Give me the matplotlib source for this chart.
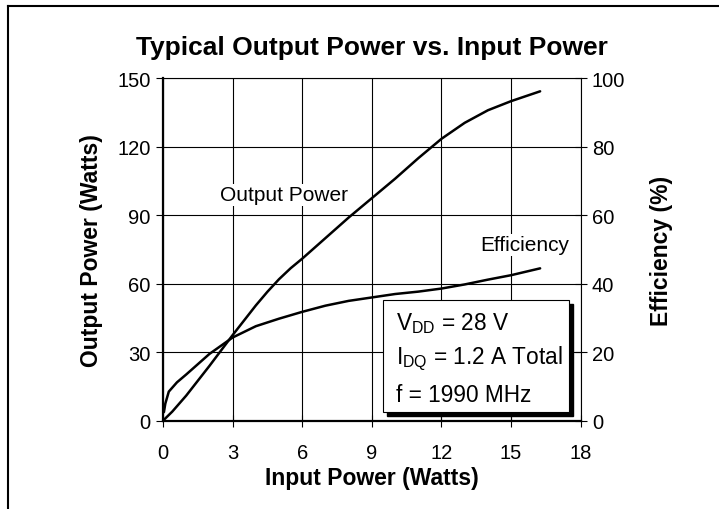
import matplotlib
matplotlib.use("Agg")
import matplotlib.pyplot as plt
from matplotlib.patches import Rectangle
from matplotlib.lines import Line2D

plt.rcParams['font.family'] = ['Liberation Sans', 'DejaVu Sans']
plt.rcParams['mathtext.fontset'] = 'custom'
plt.rcParams['mathtext.rm'] = 'Liberation Sans'

# output power curve (Watts) vs input power (Watts)
pin_out = [0, 0.4, 1, 2, 3, 4, 4.5, 5, 5.5, 6, 7, 8, 9, 10, 11, 12, 13, 14, 15, 16.25]
pout = [0, 4, 11, 24, 37.5, 50.5, 56.5, 62, 66.8, 71, 80, 89, 97.5, 106, 115, 123.5, 130.5, 136, 140, 144.3]

# drain efficiency (%) vs input power (Watts)
pin_eff = [0.04, 0.1, 0.25, 0.6, 1, 2, 3, 4, 5, 6, 7, 8, 9, 10, 11, 12, 13, 14, 15, 16.25]
eff = [2.5, 5, 8.5, 11.2, 13.5, 19.5, 24.3, 27.6, 29.8, 31.8, 33.6, 35, 36, 37, 37.7, 38.6, 39.8, 41.2, 42.5, 44.5]

x_ticks = [0, 3, 6, 9, 12, 15, 18]
left_ticks = [0, 30, 60, 90, 120, 150]
right_ticks = [0, 20, 40, 60, 80, 100]

fig = plt.figure(figsize=(7.19, 5.10), dpi=100)
ax = fig.add_axes([0.2267, 0.1731, 0.581, 0.6714])
ax2 = ax.twinx()

ax.plot(pin_out, pout, color='black', lw=1.8, solid_capstyle='round', zorder=3)
ax2.plot(pin_eff, eff, color='black', lw=1.8, solid_capstyle='round', zorder=3)

ax.set_xlim(0, 18)
ax.set_ylim(0, 150)
ax2.set_ylim(0, 100)
ax.set_xticks(x_ticks)
ax.set_yticks(left_ticks)
ax2.set_yticks(right_ticks)
ax.grid(True, color='black', lw=0.8)
ax.set_axisbelow(True)

for s in ['top', 'right']:
    ax.spines[s].set_linewidth(0.8)
for s in ['left', 'bottom']:
    ax.spines[s].set_linewidth(1.6)
for s in ax2.spines.values():
    s.set_visible(False)

ax.tick_params(axis='y', direction='out', length=5, width=0.8, labelsize=14.5, pad=4)
ax.tick_params(axis='x', direction='inout', length=8, width=0.8, labelsize=14.5, pad=12)
ax2.tick_params(direction='inout', length=8, width=0.8, labelsize=14.5, pad=4)

ax.set_xlabel('Input Power (Watts)', fontsize=16.5, fontweight='bold', labelpad=3)
ax.set_ylabel('Output Power (Watts)', fontsize=16.5, fontweight='bold', labelpad=10)
ax2.set_ylabel('Efficiency (%)', fontsize=16.5, fontweight='bold', labelpad=18)
fig.text(0.5175, 0.905, 'Typical Output Power vs. Input Power', ha='center', va='center',
         fontsize=19, fontweight='bold')

lab_box = dict(facecolor='white', edgecolor='none', pad=1)
ax.text(5.2, 99, 'Output Power', fontsize=15, ha='center', va='center', bbox=lab_box, zorder=2)
ax.text(15.6, 77, 'Efficiency', fontsize=15, ha='center', va='center', bbox=lab_box, zorder=2)

# condition box with drop shadow
ax2.add_patch(Rectangle((0.536, 0.0143), 0.446, 0.328, transform=ax.transAxes,
                        facecolor='black', edgecolor='black', zorder=5, clip_on=False))
ax2.add_patch(Rectangle((0.527, 0.0245), 0.446, 0.328, transform=ax.transAxes,
                        facecolor='white', edgecolor='black', lw=0.8, zorder=6, clip_on=False))
cond = [r'V$_{\mathrm{DD}}$ = 28 V', r'I$_{\mathrm{DQ}}$ = 1.2 A Total', 'f = 1990 MHz']
for i, t in enumerate(cond):
    ax2.text(0.558, 0.288 - i * 0.105, t, transform=ax.transAxes, fontsize=16.3,
             va='center', ha='left', zorder=7)

# outer frame: top and left edges only
fig.add_artist(Line2D([8 / 719, 1], [1 - 7 / 510, 1 - 7 / 510], transform=fig.transFigure,
                      color='black', lw=1.5))
fig.add_artist(Line2D([8 / 719, 8 / 719], [0, 1 - 7 / 510], transform=fig.transFigure,
                      color='black', lw=1.5))

fig.savefig('out.png', dpi=100)
